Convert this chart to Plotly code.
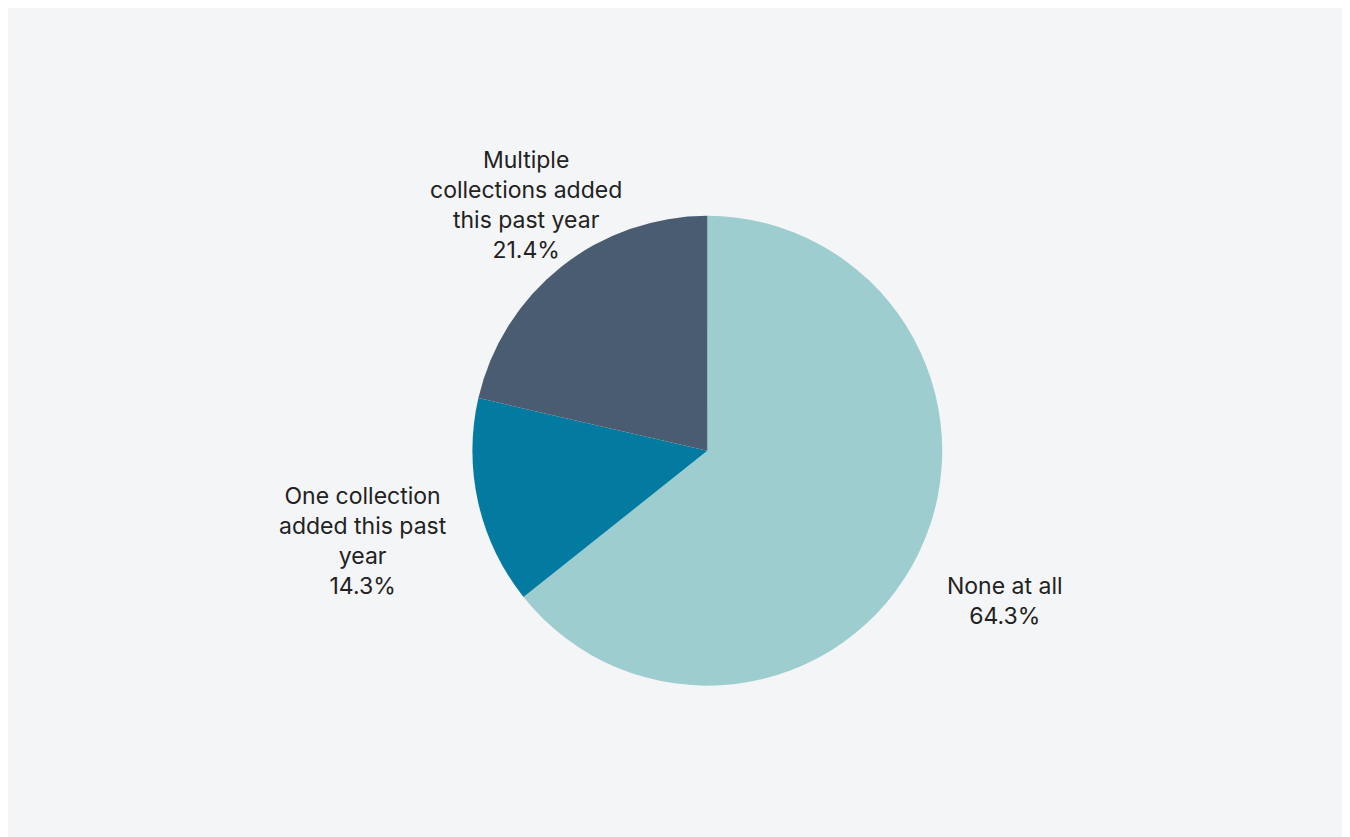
import plotly.graph_objects as go

labels = ["None at all", "One collection<br>added this past<br>year", "Multiple<br>collections added<br>this past year"]
values = [64.3, 14.3, 21.4]
colors = ["#9dcdcf", "#037ba1", "#4a5c72"]

# label anchor spots (paper coords)
label_pos = [(997 / 1350, 1 - 593 / 837), (355 / 1350, 1 - 533 / 837), (518 / 1350, 1 - 197 / 837)]

fig = go.Figure(go.Pie(
    labels=labels, values=values, sort=False, direction="clockwise", rotation=0,
    marker=dict(colors=colors, line=dict(width=0)),
    textinfo="none", hoverinfo="label+percent",
    domain=dict(x=[0.344, 0.692], y=[0.190, 0.752]),
))

for lab, val, (x, y) in zip(labels, values, label_pos):
    fig.add_annotation(x=x, y=y, xref="paper", yref="paper", showarrow=False,
                       xanchor="center", yanchor="middle",
                       text=f"{lab}<br>{val}%", align="center",
                       font=dict(size=23, color="#222222", family="Inter"))

fig.update_layout(
    width=1350, height=837, showlegend=False,
    margin=dict(l=0, r=0, t=0, b=0),
    paper_bgcolor="#f4f5f7", plot_bgcolor="#f4f5f7",
)
fig.write_html("out.html")
